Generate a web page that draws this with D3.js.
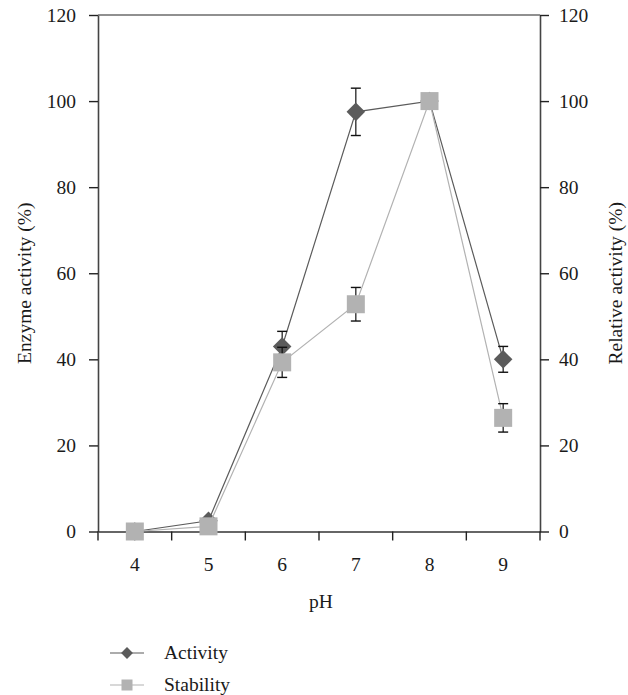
<!DOCTYPE html>
<html>
<head>
<meta charset="utf-8">
<script src="https://cdn.jsdelivr.net/npm/d3@7"></script>
<style>
  body { margin: 0; background: #fff; }
  svg text { font-family: "Liberation Serif", "DejaVu Serif", serif; fill: #1a1a1a; }
</style>
</head>
<body>
<svg id="chart" width="628" height="695"></svg>
<script>
'use strict';
// values
const phLabels = ['4', '5', '6', '7', '8', '9'];
const activity = [0, 2.5, 43, 97.5, 100, 40];
const activityErr = [0, 0, 3.5, 5.5, 0, 3];
const stability = [0, 1.2, 39.3, 52.8, 100, 26.4];
const stabilityErr = [0, 0, 3.5, 3.9, 0, 3.3];
const yTicks = [0, 20, 40, 60, 80, 100, 120];
const legendNames = ['Activity', 'Stability'];

(() => {
  const left = 98, right = 540, top = 15, bottom = 531.5;
  const fontSize = 19.5;
  const serif = '"Liberation Serif", "DejaVu Serif", serif';
  const darkCol = '#5b5b5b', lightCol = '#b2b2b2';

  const svg = d3.select('#chart');
  const x = d3.scaleBand().domain(phLabels).range([left, right]).padding(0);
  const y = d3.scaleLinear().domain([0, 120]).range([bottom, top]);
  const cx = d => x(d) + x.bandwidth() / 2;

  // frame top line
  svg.append('line')
    .attr('x1', left).attr('x2', right)
    .attr('y1', top).attr('y2', top)
    .attr('stroke', '#222').attr('stroke-width', 1.2);

  // left and right y axes
  function styleAxis(g) {
    g.attr('font-family', serif).attr('font-size', fontSize);
    g.select('.domain').attr('stroke', '#444').attr('stroke-width', 1.6);
    g.selectAll('.tick line').attr('stroke', '#222').attr('stroke-width', 1.4);
    g.selectAll('.tick text').attr('fill', '#1a1a1a');
  }
  svg.append('g')
    .attr('transform', `translate(${left},0)`)
    .call(d3.axisLeft(y).tickValues(yTicks).tickSizeInner(9).tickSizeOuter(0).tickPadding(13))
    .call(styleAxis);
  svg.append('g')
    .attr('transform', `translate(${right},0)`)
    .call(d3.axisRight(y).tickValues(yTicks).tickSizeInner(9).tickSizeOuter(0).tickPadding(10))
    .call(styleAxis);

  // x axis: labels at band centres, ticks at band edges
  const xg = svg.append('g')
    .attr('transform', `translate(0,${bottom})`)
    .call(d3.axisBottom(x).tickSize(0).tickPadding(26))
    .call(styleAxis);
  xg.select('.domain').attr('stroke', '#333').attr('stroke-width', 1.6);
  const edges = phLabels.map(d => x(d)).concat([x.range()[1]]);
  xg.selectAll('line.edge').data(edges).enter().append('line')
    .attr('class', 'edge')
    .attr('x1', d => d).attr('x2', d => d)
    .attr('y1', 0).attr('y2', 9)
    .attr('stroke', '#222').attr('stroke-width', 1.4);

  // axis titles
  svg.append('text')
    .attr('x', (left + right) / 2 + 2).attr('y', 608)
    .attr('text-anchor', 'middle').attr('font-size', fontSize)
    .text('pH');
  svg.append('text')
    .attr('transform', `translate(31,${(top + bottom) / 2 + 10}) rotate(-90)`)
    .attr('text-anchor', 'middle').attr('font-size', fontSize)
    .text('Enzyme activity (%)');
  svg.append('text')
    .attr('transform', `translate(622,${(top + bottom) / 2 + 10}) rotate(-90)`)
    .attr('text-anchor', 'middle').attr('font-size', fontSize)
    .text('Relative activity (%)');

  const line = d3.line().x((d, i) => cx(phLabels[i])).y(d => y(d));
  const diamond = d3.symbol().type(d3.symbolDiamond2).size(220);

  function errorBars(vals, errs, cls) {
    const eg = svg.append('g').attr('class', cls);
    const data = vals.map((v, i) => ({ k: phLabels[i], v: v, e: errs[i] })).filter(d => d.e > 0);
    eg.selectAll('line.stem').data(data).enter().append('line')
      .attr('x1', d => cx(d.k)).attr('x2', d => cx(d.k))
      .attr('y1', d => y(d.v + d.e)).attr('y2', d => y(d.v - d.e))
      .attr('stroke', '#111').attr('stroke-width', 1.2);
    ['+', '-'].forEach(s => {
      eg.selectAll('line.cap' + (s == '+' ? 'hi' : 'lo')).data(data).enter().append('line')
        .attr('x1', d => cx(d.k) - 5).attr('x2', d => cx(d.k) + 5)
        .attr('y1', d => y(s == '+' ? d.v + d.e : d.v - d.e))
        .attr('y2', d => y(s == '+' ? d.v + d.e : d.v - d.e))
        .attr('stroke', '#111').attr('stroke-width', 1.4);
    });
  }

  // activity series
  svg.append('path').datum(activity)
    .attr('d', line).attr('fill', 'none')
    .attr('stroke', darkCol).attr('stroke-width', 1.2);
  errorBars(activity, activityErr, 'err-activity');
  svg.append('g').selectAll('path').data(activity).enter().append('path')
    .attr('transform', (d, i) => `translate(${cx(phLabels[i])},${y(d)})`)
    .attr('d', diamond).attr('fill', darkCol);

  // stability series
  svg.append('path').datum(stability)
    .attr('d', line).attr('fill', 'none')
    .attr('stroke', lightCol).attr('stroke-width', 1.2);
  errorBars(stability, stabilityErr, 'err-stability');
  const sq = 18;
  svg.append('g').selectAll('rect').data(stability).enter().append('rect')
    .attr('x', (d, i) => cx(phLabels[i]) - sq / 2)
    .attr('y', d => y(d) - sq / 2)
    .attr('width', sq).attr('height', sq)
    .attr('fill', lightCol);

  // legend
  const lg = svg.append('g').attr('transform', 'translate(110,653)');
  legendNames.forEach((name, i) => {
    const row = lg.append('g').attr('transform', `translate(0,${i * 32})`);
    row.append('line').attr('x1', 0).attr('x2', 34).attr('y1', 0).attr('y2', 0)
      .attr('stroke', i ? lightCol : darkCol).attr('stroke-width', 1.2);
    if (i == 0) {
      row.append('path').attr('transform', 'translate(17,0)')
        .attr('d', d3.symbol().type(d3.symbolDiamond2).size(90)).attr('fill', darkCol);
    } else {
      row.append('rect').attr('x', 11.5).attr('y', -5.5).attr('width', 11).attr('height', 11)
        .attr('fill', lightCol);
    }
    row.append('text').attr('x', 54).attr('y', 5.5)
      .attr('font-size', fontSize).text(name);
  });
})();
</script>
</body>
</html>
